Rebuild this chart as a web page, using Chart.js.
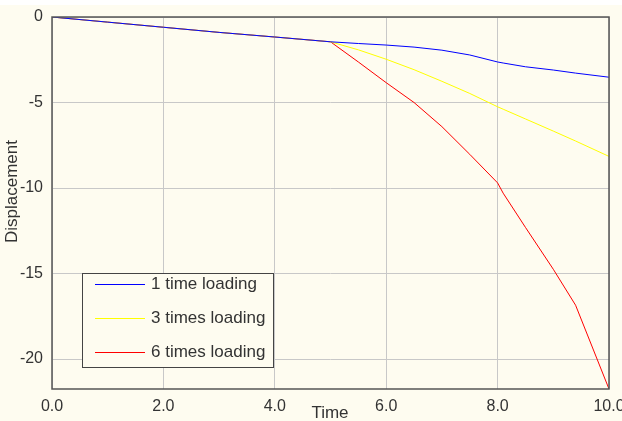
<!DOCTYPE html>
<html>
<head>
<meta charset="utf-8">
<script src="https://cdn.jsdelivr.net/npm/chart.js@4"></script>
<style>
  html, body { margin: 0; padding: 0; background: #fff; }
  #wrap { width: 622px; height: 421px; }
</style>
</head>
<body>
<div id="wrap"><canvas id="c" width="622" height="421"></canvas></div>
<script>
/* data */
const TIMES   = [0, 1, 2, 3, 4, 5, 5.5, 6, 6.5, 7, 7.5, 8, 8.1, 8.5, 9, 9.4, 10];
const ONE_X   = [0, -0.3, -0.6, -0.9, -1.17, -1.45, -1.55, -1.64, -1.76, -1.94, -2.22, -2.63, -2.69, -2.91, -3.1, -3.28, -3.52];
const THREE_X = [0, -0.3, -0.6, -0.9, -1.17, -1.45, -1.92, -2.47, -3.08, -3.76, -4.47, -5.25, -5.39, -5.96, -6.67, -7.25, -8.15];
const SIX_X   = [0, -0.3, -0.6, -0.9, -1.17, -1.45, -2.63, -3.84, -5.0, -6.41, -8.03, -9.7, -10.3, -12.3, -14.75, -16.85, -21.75];
const SERIES_LABELS = ["1 time loading", "3 times loading", "6 times loading"];
const X_TICKS = [0, 2, 4, 6, 8, 10];
const Y_TICKS = [0, -5, -10, -15, -20];

const FONT = "'Liberation Sans', Arial, sans-serif";
const CREAM = "#fefcf0";
const TEXT = "#333333";

const pts = vals => TIMES.map((t, i) => ({ x: t, y: vals[i] }));

/* background, frame, axis titles, boxed legend */
const decor = {
  id: "decor",
  beforeDraw(chart) {
    const ctx = chart.ctx;
    ctx.save();
    ctx.fillStyle = CREAM;
    ctx.fillRect(0, 5, chart.width, chart.height - 5);
    ctx.restore();
  },
  afterDraw(chart) {
    const ctx = chart.ctx;
    const a = chart.chartArea;
    ctx.save();

    // plot frame
    ctx.strokeStyle = "#555";
    ctx.lineWidth = 1.5;
    ctx.strokeRect(a.left, a.top, a.right - a.left, a.bottom - a.top);

    // axis titles
    ctx.fillStyle = TEXT;
    ctx.font = "17px " + FONT;
    ctx.textAlign = "center";
    ctx.textBaseline = "middle";
    ctx.fillText("Time", 330, 413);
    ctx.save();
    ctx.translate(12.5, 191.5);
    ctx.rotate(-Math.PI / 2);
    ctx.fillText("Displacement", 0, 0);
    ctx.restore();

    // legend box
    const bx = 82.5, by = 273.5, bw = 191, bh = 94;
    ctx.fillStyle = CREAM;
    ctx.fillRect(bx, by, bw, bh);
    ctx.strokeStyle = "#444";
    ctx.lineWidth = 1;
    ctx.strokeRect(bx, by, bw, bh);
    ctx.textAlign = "left";
    chart.data.datasets.forEach((ds, i) => {
      const y = 284 + i * 34;
      ctx.strokeStyle = ds.borderColor;
      ctx.beginPath();
      ctx.moveTo(95, y + 0.5);
      ctx.lineTo(145, y + 0.5);
      ctx.stroke();
      ctx.fillStyle = TEXT;
      ctx.fillText(ds.label, 151, y);
    });
    ctx.restore();
  },
};

new Chart(document.getElementById("c"), {
  type: "line",
  data: {
    datasets: [
      { label: SERIES_LABELS[0], data: pts(ONE_X),   borderColor: "#0000ff" },
      { label: SERIES_LABELS[1], data: pts(THREE_X), borderColor: "#ffff00" },
      { label: SERIES_LABELS[2], data: pts(SIX_X),   borderColor: "#ff0000" },
    ].map(d => ({ ...d, borderWidth: 1, pointRadius: 0, tension: 0, fill: false })),
  },
  options: {
    responsive: false,
    animation: false,
    layout: { padding: { top: 17, right: 13, left: 0, bottom: 0 } },
    plugins: { legend: { display: false }, tooltip: { enabled: false } },
    scales: {
      x: {
        type: "linear",
        min: 0, max: 10,
        afterBuildTicks: s => { s.ticks = X_TICKS.map(v => ({ value: v })); },
        afterFit: s => { s.height = 32; s.paddingLeft = 0; s.paddingRight = 0; },
        ticks: {
          callback: v => v.toFixed(1),
          color: TEXT, font: { family: FONT, size: 16 },
          padding: 8, maxRotation: 0, autoSkip: false,
        },
        grid: { color: "#c8c8c8", drawTicks: false },
        border: { display: false },
      },
      y: {
        min: -21.75, max: 0,
        afterBuildTicks: s => { s.ticks = Y_TICKS.map(v => ({ value: v })); },
        afterFit: s => { s.width = 52; s.paddingTop = 0; s.paddingBottom = 0; },
        ticks: {
          color: TEXT, font: { family: FONT, size: 16 },
          padding: 9, autoSkip: false,
        },
        grid: { color: "#c8c8c8", drawTicks: false },
        border: { display: false },
      },
    },
  },
  plugins: [decor],
});
</script>
</body>
</html>
